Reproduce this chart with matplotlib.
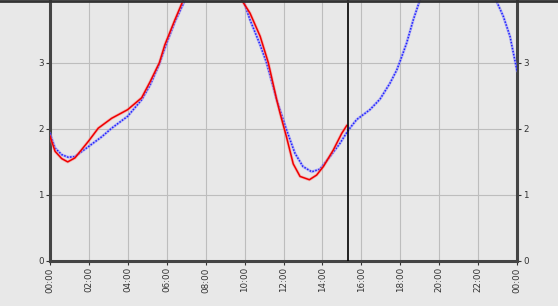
import matplotlib
matplotlib.use("Agg")
import matplotlib.pyplot as plt
from matplotlib.lines import Line2D

# forecast (blue, dotted) - hours since midnight, value
fc_hours = [0.0, 0.26, 0.6, 0.94, 1.28, 1.97, 2.66, 3.17, 3.99, 4.71, 5.14, 5.62,
            6.0, 6.42, 6.94, 7.5, 8.2, 9.0, 9.5, 9.93, 10.28, 10.8, 11.13, 11.65,
            12.16, 12.59, 13.0, 13.45, 13.87, 14.39, 14.9, 15.33, 15.76, 16.44,
            16.96, 17.47, 17.82, 18.0, 18.33, 18.67, 19.01, 19.6, 20.5, 21.5,
            22.4, 22.92, 23.3, 23.64, 24.0]
fc_vals = [1.93, 1.71, 1.61, 1.57, 1.58, 1.73, 1.88, 2.01, 2.19, 2.44, 2.66, 2.98,
           3.3, 3.62, 3.95, 4.3, 4.5, 4.4, 4.15, 3.95, 3.65, 3.27, 3.0, 2.44,
           1.98, 1.63, 1.43, 1.35, 1.39, 1.58, 1.78, 1.98, 2.14, 2.29,
           2.45, 2.69, 2.89, 3.03, 3.3, 3.65, 3.95, 4.3, 4.55, 4.5,
           4.2, 3.95, 3.7, 3.4, 2.88]

# measured (red, solid)
ms_hours = [0.0, 0.26, 0.6, 0.91, 1.28, 1.97, 2.48, 3.17, 3.99, 4.71, 5.14, 5.62,
            5.9, 6.42, 6.85, 7.5, 8.3, 9.1, 9.5, 9.85, 10.28, 10.8, 11.22, 11.65,
            11.82, 12.16, 12.5, 12.85, 13.33, 13.7, 14.05, 14.56, 14.99, 15.25]
ms_vals = [1.89, 1.66, 1.55, 1.50, 1.56, 1.81, 2.01, 2.16, 2.29, 2.47, 2.71, 3.0,
           3.27, 3.65, 3.95, 4.35, 4.55, 4.4, 4.15, 3.95, 3.75, 3.4, 3.0, 2.44,
           2.24, 1.87, 1.47, 1.28, 1.23, 1.30, 1.43, 1.68, 1.93, 2.05]

now_hour = 15.31
xticks = list(range(0, 25, 2))
xlabels = ["%02d:00" % (h % 24) for h in xticks]
yticks = [0, 1, 2, 3]

bg = "#e8e8e8"
fig = plt.figure(figsize=(5.58, 3.06), dpi=100, facecolor=bg)
ax = fig.add_axes([50 / 558, 45 / 306, 467 / 558, 261 / 306], facecolor=bg)

ax.plot(fc_hours, fc_vals, color="#8080ff", lw=2.0, alpha=0.5, zorder=3)
ax.plot(fc_hours, fc_vals, color="#2020ff", lw=1.1, ls=(0, (1, 1)), zorder=3)
ax.plot(ms_hours, ms_vals, color="#ff8080", lw=2.2, alpha=0.5, zorder=4)
ax.plot(ms_hours, ms_vals, color="#ee0000", lw=1.1, zorder=5)
ax.axvline(now_hour, color="black", lw=1.2, zorder=6)

ax.set_xlim(0, 24)
ax.set_ylim(0, 3.95)
ax.set_xticks(xticks)
ax.set_xticklabels(xlabels, rotation=90)
ax.set_yticks(yticks)
ax.grid(True, color="#bdbdbd", lw=0.8)
ax.tick_params(axis="both", labelsize=6.3, colors="#333333", length=3, width=0.8,
               pad=1.5)
ax.tick_params(axis="y", right=True, labelright=True)

for side in ["left", "right", "bottom"]:
    ax.spines[side].set_color("#444444")
    ax.spines[side].set_linewidth(2.2)
ax.spines["top"].set_visible(False)

# dark line along the top edge of the picture
fig.add_artist(Line2D([0, 1], [0.996, 0.996], transform=fig.transFigure,
                      color="#333333", lw=2))

fig.savefig("out.png", dpi=100, facecolor=bg)
